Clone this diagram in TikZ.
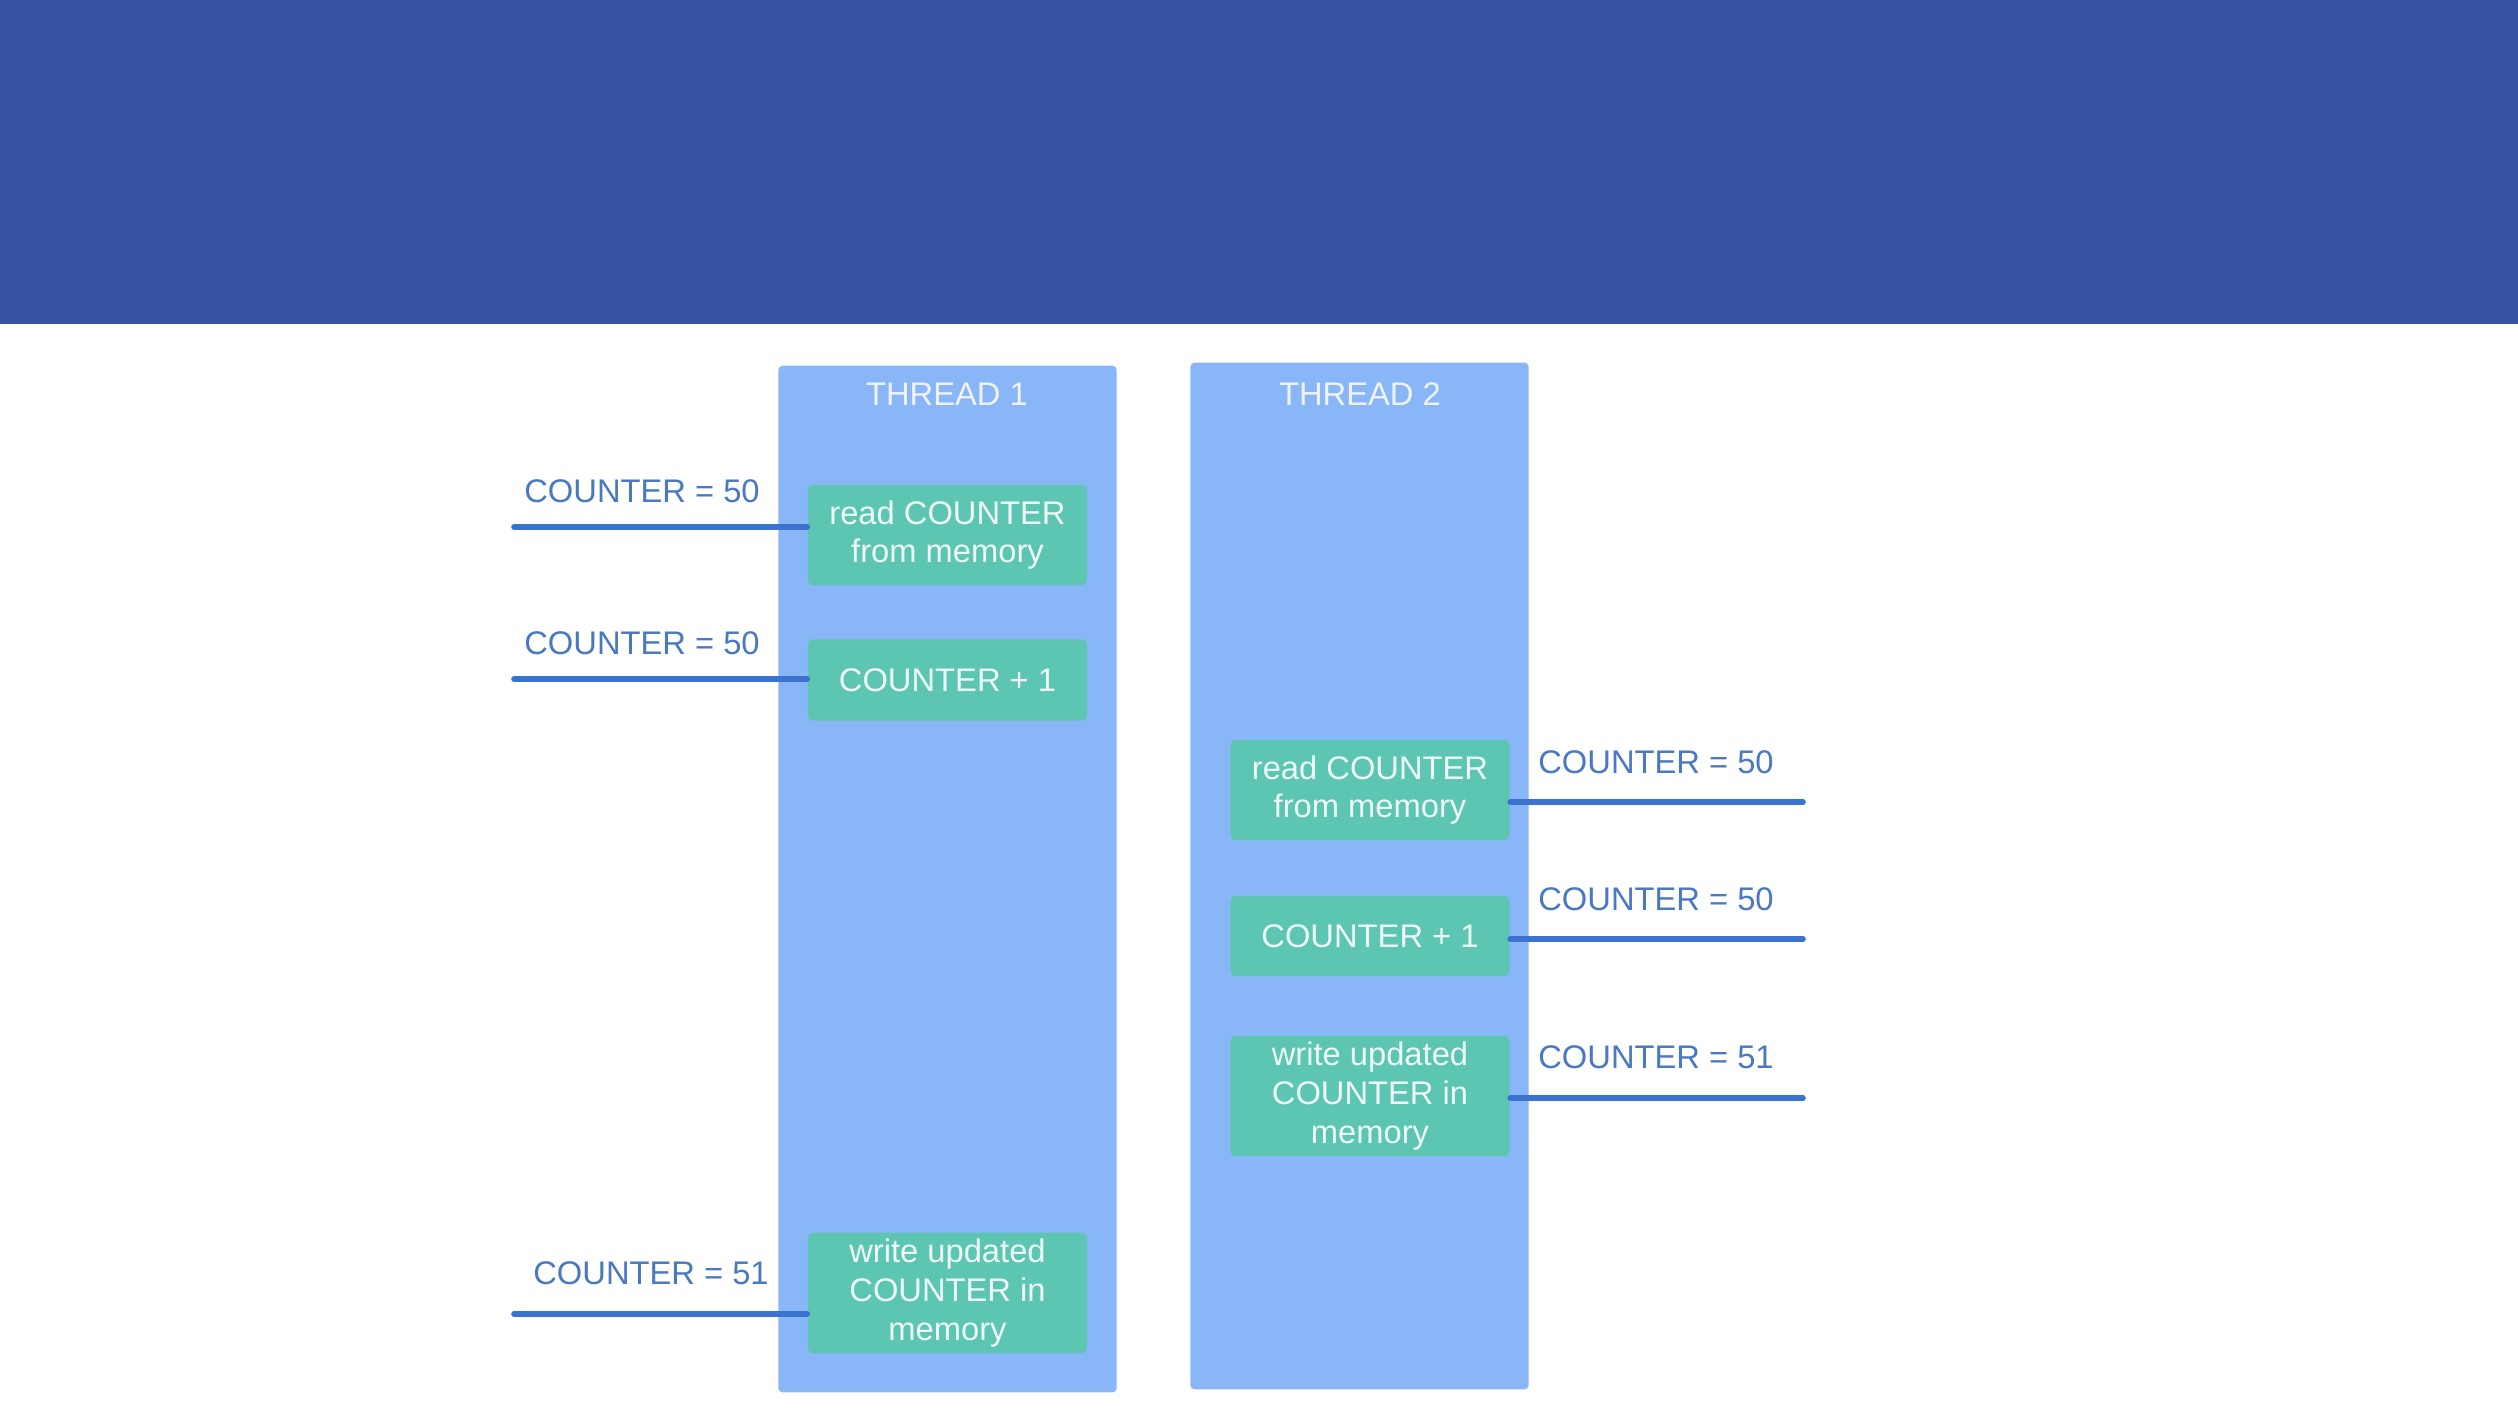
\documentclass[tikz,border=0pt]{standalone}
\usepackage{fontspec}
\setmainfont{Liberation Sans}
\definecolor{banner}{HTML}{3853A4}
\definecolor{colfill}{HTML}{88B6F7}
\definecolor{boxfill}{HTML}{5CC6B2}
\definecolor{linecol}{HTML}{3A72D0}
\definecolor{labcol}{HTML}{4A79C2}
\definecolor{boxtext}{HTML}{EEF8F5}
\definecolor{titletext}{HTML}{EEF3FD}
\begin{document}
\begin{tikzpicture}[x=0.01cm,y=-0.01cm,
  txt/.style={font=\fontsize{9.3}{11}\selectfont},
  column/.style={fill=colfill,draw=none,rounded corners=0.04cm,inner sep=0pt,minimum width=3.38cm,minimum height=10.26cm},
  stepbox/.style={fill=boxfill,draw=none,rounded corners=0.05cm,inner sep=0pt,minimum width=2.79cm,txt,text=boxtext,align=center},
  title/.style={txt,text=titletext},
  lab/.style={txt,text=labcol,inner sep=0pt},
  conn/.style={draw=linecol,line width=1.6pt,line cap=round}]
\useasboundingbox (0,0) rectangle (2518,1424);
\fill[white] (0,0) rectangle (2518,1424);
\fill[banner] (0,0) rectangle (2518,324);
% columns
\node[column] (c1) at (947.5,879) {};
\node[column] (c2) at (1359.5,876) {};
\node[title] (t1) at (947,394) {THREAD 1};
\node[title] (t2) at (1360,394) {THREAD 2};
% thread 1 boxes
\node[stepbox,minimum height=1.00cm] (a1) at (947.5,535) {read COUNTER\\from memory};
\node[stepbox,minimum height=0.81cm] (a2) at (947.5,680) {COUNTER + 1};
\node[stepbox,minimum height=1.20cm] (a3) at (947.5,1293) {write updated\\COUNTER in\\memory};
% thread 2 boxes
\node[stepbox,minimum height=1.00cm] (b1) at (1370,790) {read COUNTER\\from memory};
\node[stepbox,minimum height=0.80cm] (b2) at (1370,936) {COUNTER + 1};
\node[stepbox,minimum height=1.20cm] (b3) at (1370,1096) {write updated\\COUNTER in\\memory};
% line endpoints
\coordinate (la1) at (514,527);
\coordinate (la2) at (514,679);
\coordinate (la3) at (514,1314);
\coordinate (rb1) at (1803,802);
\coordinate (rb2) at (1803,939);
\coordinate (rb3) at (1803,1098);
\draw[conn] (la1) -- (a1.west |- la1);
\draw[conn] (la2) -- (a2.west |- la2);
\draw[conn] (la3) -- (a3.west |- la3);
\draw[conn] (b1.east |- rb1) -- (rb1);
\draw[conn] (b2.east |- rb2) -- (rb2);
\draw[conn] (b3.east |- rb3) -- (rb3);
% labels
\node[lab] (l1) at (642,491) {COUNTER = 50};
\node[lab] (l2) at (642,643) {COUNTER = 50};
\node[lab] (l3) at (651,1273) {COUNTER = 51};
\node[lab] (r1) at (1656,762) {COUNTER = 50};
\node[lab] (r2) at (1656,899) {COUNTER = 50};
\node[lab] (r3) at (1656,1057) {COUNTER = 51};
\end{tikzpicture}
\end{document}
